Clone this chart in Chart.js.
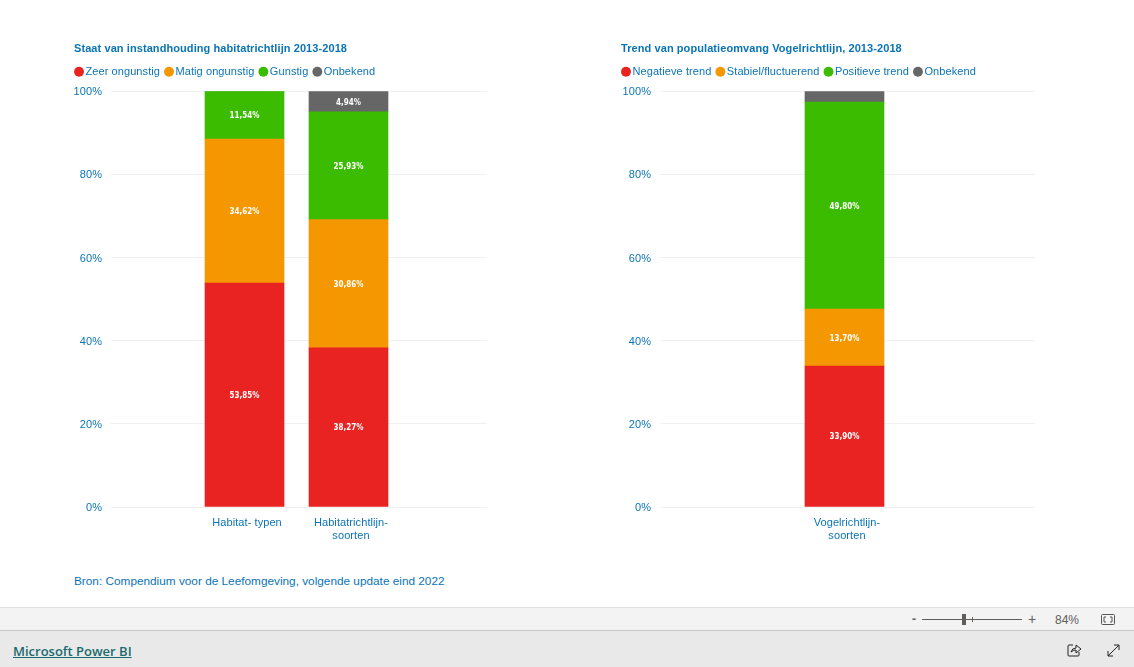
<!DOCTYPE html>
<html>
<head>
<meta charset="utf-8">
<title>Staat van instandhouding</title>
<script src="https://cdn.jsdelivr.net/npm/chart.js@4/dist/chart.umd.min.js"></script>
<style>
  html, body { margin: 0; padding: 0; background: #fff; overflow: hidden; }
  body { width: 1134px; height: 667px; position: relative; font-family: "Liberation Sans", sans-serif; }
  canvas { position: absolute; }
  #left-chart { left: 70px; top: 30px; }
  #right-chart { left: 617px; top: 30px; }
  .source { position: absolute; left: 74px; top: 574px; font-size: 11.8px; line-height: 15px; color: #0b74b5; }
  .zoom-bar { position: absolute; left: 0; top: 607px; width: 1134px; height: 22px; background: #f3f3f3;
    border-top: 1px solid #e0e0e0; border-bottom: 1px solid #c8c8c8; }
  .footer { position: absolute; left: 0; top: 631px; width: 1134px; height: 36px; background: #e9e9e9; }
  .brand { position: absolute; left: 13px; top: 10px; font: 600 13px/20px "Open Sans", sans-serif; color: #1a6a6f; text-decoration: underline; }
  .zoom-text { position: absolute; color: #605e5c; font-size: 12px; line-height: 14px; }
  .track { position: absolute; left: 922px; top: 11px; width: 100px; height: 1px; background: #605e5c; }
  .thumb { position: absolute; left: 962px; top: 6px; width: 4px; height: 11px; background: #605e5c; }
  .notch { position: absolute; left: 972px; top: 9px; width: 1px; height: 5px; background: #605e5c; }
  svg { position: absolute; }
</style>
</head>
<body>
<canvas id="left-chart" width="417" height="520"></canvas>
<canvas id="right-chart" width="418" height="520"></canvas>
<div class="source">Bron: Compendium voor de Leefomgeving, volgende update eind 2022</div>
<div class="zoom-bar">
  <div class="zoom-text" style="left:912px;top:4px;font-weight:bold">-</div>
  <div class="track"></div><div class="thumb"></div><div class="notch"></div>
  <div class="zoom-text" style="left:1028px;top:4px;font-size:14px">+</div>
  <div class="zoom-text" style="left:1055px;top:5px">84%</div>
  <svg style="left:1101px;top:6px" width="14" height="11" viewBox="0 0 14 11" fill="none" stroke="#555">
    <rect x="0.5" y="0.5" width="13" height="10" rx="1"/>
    <path d="M5 3H3V8H5M9 3H11V8H9"/>
  </svg>
</div>
<div class="footer">
  <div class="brand">Microsoft Power BI</div>
  <svg style="left:1067px;top:12px" width="15" height="14" viewBox="0 0 15 14" fill="none" stroke="#222">
    <path d="M6 2H2Q1 2 1 3V12Q1 13 2 13H11Q12 13 12 12V9"/>
    <path d="M4 9Q5 5 9 5V2L14 6L9 10V7Q6 7 4 9Z"/>
  </svg>
  <svg style="left:1107px;top:13px" width="13" height="13" viewBox="0 0 13 13" fill="none" stroke="#222">
    <path d="M1 12L12 1M7 1H12V6M1 7V12H6"/>
  </svg>
</div>

<script>
// values
const leftCategories = ['Habitat- typen', ['Habitatrichtlijn-', 'soorten']];
const zeerOngunstig = [53.85, 38.27];
const matigOngunstig = [34.62, 30.86];
const gunstig = [11.54, 25.93];
const onbekendLeft = [0, 4.94];

const rightCategories = [['Vogelrichtlijn-', 'soorten']];
const negatieveTrend = [33.9];
const stabielFluctuerend = [13.7];
const positieveTrend = [49.8];
const onbekendRight = [2.6];

const yTicks = [0, 20, 40, 60, 80, 100];

const RED = '#e92222';
const ORANGE = '#f59700';
const GREEN = '#3cbc00';
const GREY = '#666666';
const TEXT = '#0b74b5';
const FONT = '"Liberation Sans", sans-serif';

// white percentage inside the segments, the smallest ones stay empty
const segmentLabels = {
    id: 'segmentLabels',
    afterDatasetsDraw(chart) {
        const ctx = chart.ctx;
        ctx.save();
        ctx.fillStyle = '#fff';
        ctx.font = 'bold 8px "DejaVu Sans Condensed", "DejaVu Sans", sans-serif';
        ctx.letterSpacing = '0px';
        ctx.textAlign = 'center';
        ctx.textBaseline = 'middle';
        chart.data.datasets.forEach((ds, i) => {
            chart.getDatasetMeta(i).data.forEach((bar, j) => {
                if (ds.data[j] < 4) return;
                const text = ds.data[j].toFixed(2).replace('.', ',') + '%';
                ctx.fillText(text, bar.x, (bar.y + bar.base) / 2 + 1);
            });
        });
        ctx.restore();
    }
};

// title starts right of the legend's inner padding, legend needs more room below
const headerLayout = {
    id: 'headerLayout',
    afterInit(chart) {
        const legend = chart.legend;
        const fit = legend.fit;
        legend.fit = function () {
            fit.call(legend);
            legend.height += 4;
        };
    },
    beforeUpdate(chart) {
        chart.ctx.letterSpacing = '0.08px';
    },
    afterLayout(chart) {
        chart.titleBlock.left += 4;
    }
};

function makeChart(id, opts) {
    const names = opts.names;
    const series = opts.series;
    const colors = [RED, ORANGE, GREEN, GREY];
    new Chart(document.getElementById(id), {
        type: 'bar',
        data: {
            labels: opts.categories.map((c, i) => i),
            datasets: names.map((name, i) => ({
                label: name,
                data: series[i],
                backgroundColor: colors[i],
                pointStyle: 'circle',
                stack: 'a',
                barThickness: 79
            }))
        },
        options: {
            responsive: false,
            animation: false,
            layout: { padding: 0 },
            plugins: {
                title: {
                    display: true,
                    text: opts.title,
                    align: 'start',
                    color: TEXT,
                    font: { family: FONT, size: 11, weight: 'bold' },
                    padding: { top: 12, bottom: 3 }
                },
                legend: {
                    align: 'start',
                    onClick: null,
                    labels: {
                        usePointStyle: true,
                        boxWidth: 2,
                        boxHeight: 7,
                        padding: 8,
                        color: TEXT,
                        font: { family: FONT, size: 11 }
                    }
                },
                tooltip: { enabled: false }
            },
            scales: {
                x: {
                    type: 'linear',
                    offset: false,
                    stacked: true,
                    min: opts.xMin,
                    max: opts.xMax,
                    grid: { display: false },
                    border: { display: false },
                    afterBuildTicks(axis) {
                        axis.ticks = opts.categories.map((c, i) => ({ value: i }));
                    },
                    afterFit(axis) { axis.height = 43; },
                    ticks: {
                        autoSkip: false,
                        maxRotation: 0,
                        padding: 1.5,
                        labelOffset: 2.5,
                        color: TEXT,
                        font: { family: FONT, size: 11 },
                        callback: v => opts.categories[v]
                    }
                },
                y: {
                    stacked: true,
                    min: 0,
                    max: 100,
                    grid: { color: '#f0f0f0', drawTicks: false },
                    border: { display: false },
                    afterBuildTicks(axis) {
                        axis.ticks = yTicks.map(v => ({ value: v }));
                    },
                    afterFit(axis) { axis.width = opts.yWidth; },
                    ticks: {
                        padding: 9,
                        labelOffset: 1,
                        color: TEXT,
                        font: { family: FONT, size: 11 },
                        callback: v => v + '%'
                    }
                }
            }
        },
        plugins: [segmentLabels, headerLayout]
    });
}

makeChart('left-chart', {
    title: 'Staat van instandhouding habitatrichtlijn 2013-2018',
    names: ['Zeer ongunstig', 'Matig ongunstig', 'Gunstig', 'Onbekend'],
    categories: leftCategories,
    series: [zeerOngunstig, matigOngunstig, gunstig, onbekendLeft],
    xMin: -1.284,
    xMax: 2.332,
    yWidth: 41
});

makeChart('right-chart', {
    title: 'Trend van populatieomvang Vogelrichtlijn, 2013-2018',
    names: ['Negatieve trend', 'Stabiel/fluctuerend', 'Positieve trend', 'Onbekend'],
    categories: rightCategories,
    series: [negatieveTrend, stabielFluctuerend, positieveTrend, onbekendRight],
    xMin: -1.774,
    xMax: 1.832,
    yWidth: 43
});
</script>
</body>
</html>
